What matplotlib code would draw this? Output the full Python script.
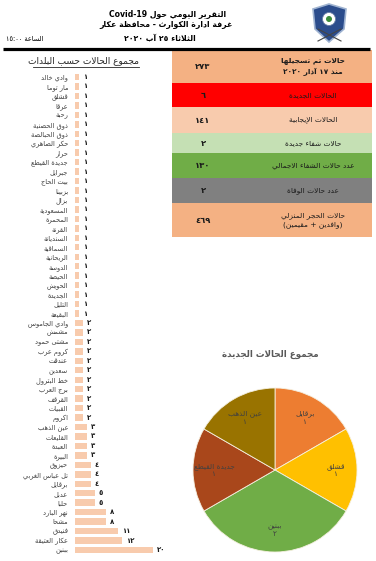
import re
import numpy as np
import matplotlib
matplotlib.use('Agg')
import matplotlib.pyplot as plt
from matplotlib.patches import Rectangle, Polygon, Circle

plt.rcParams['font.family'] = ['DejaVu Sans']

# ---- simple arabic shaping (matplotlib has no shaping / bidi) ----
FOUR = {'ئ': 0xFE89, 'ب': 0xFE8F, 'ت': 0xFE95, 'ث': 0xFE99, 'ج': 0xFE9D, 'ح': 0xFEA1,
        'خ': 0xFEA5, 'س': 0xFEB1, 'ش': 0xFEB5, 'ص': 0xFEB9, 'ض': 0xFEBD, 'ط': 0xFEC1,
        'ظ': 0xFEC5, 'ع': 0xFEC9, 'غ': 0xFECD, 'ف': 0xFED1, 'ق': 0xFED5, 'ك': 0xFED9,
        'ل': 0xFEDD, 'م': 0xFEE1, 'ن': 0xFEE5, 'ه': 0xFEE9, 'ي': 0xFEF1}
TWO = {'آ': 0xFE81, 'أ': 0xFE83, 'ؤ': 0xFE85, 'إ': 0xFE87, 'ا': 0xFE8D, 'ة': 0xFE93,
       'د': 0xFEA9, 'ذ': 0xFEAB, 'ر': 0xFEAD, 'ز': 0xFEAF, 'و': 0xFEED, 'ى': 0xFEEF}
ONE = {'ء': 0xFE80}
LAM_ALEF = {'ا': 0xFEFB, 'أ': 0xFEF7, 'إ': 0xFEF9, 'آ': 0xFEF5}
MIRROR = {'(': ')', ')': '('}


def shape(s):
    out = []
    prev = False
    i = 0
    while i < len(s):
        c = s[i]
        nxt = s[i + 1] if i + 1 < len(s) else ''
        if c == 'ل' and nxt in LAM_ALEF:
            out.append(chr(LAM_ALEF[nxt] + (1 if prev else 0)))
            prev = False
            i += 2
            continue
        if c in FOUR:
            jn = nxt in FOUR or nxt in TWO
            b = FOUR[c]
            if prev and jn:
                f = b + 3
            elif prev:
                f = b + 1
            elif jn:
                f = b + 2
            else:
                f = b
            out.append(chr(f))
            prev = jn
        elif c in TWO:
            out.append(chr(TWO[c] + (1 if prev else 0)))
            prev = False
        elif c in ONE:
            out.append(chr(ONE[c]))
            prev = False
        else:
            out.append(c)
            prev = False
        i += 1
    return ''.join(out)


def ar(text):
    lines = []
    for line in text.split('\n'):
        toks = re.findall(r'[A-Za-z0-9\u0660-\u0669][A-Za-z0-9\u0660-\u0669:\-\.]*|.', shape(line))
        lines.append(''.join(MIRROR.get(t, t) for t in reversed(toks)))
    return '\n'.join(lines)


def ind(n):
    return str(n).translate(str.maketrans('0123456789', '٠١٢٣٤٥٦٧٨٩'))


# ---- data ----
towns = ['وادي خالد', 'مار توما', 'قشلق', 'عرقا', 'رحبة', 'ذوق الحصنية', 'ذوق الحبالصة',
         'حكر الضاهري', 'حرار', 'جديدة القيطع', 'جبرايل', 'بيت الحاج', 'بزبينا', 'بزال',
         'المسعودية', 'المحمرة', 'القرنة', 'السنديانة', 'السماقية', 'الريحانية', 'الدوسة',
         'الحيصة', 'الحويش', 'الجديدة', 'التليل', 'البقيعة',
         'وادي الجاموس', 'مشمش', 'مشتى حمود', 'كروم عرب', 'عندقت', 'سعدين', 'خط البترول',
         'برج العرب', 'القرقف', 'القبيات', 'اكروم',
         'عين الذهب', 'القليعات', 'العبدة', 'البيرة',
         'حيزوق', 'تل عباس الغربي', 'برقايل', 'عدبل', 'حلبا', 'نهر البارد', 'مشحا',
         'فنيدق', 'عكار العتيقة', 'ببنين']
town_cases = [1] * 26 + [2] * 11 + [3] * 4 + [4] * 3 + [5, 5, 8, 8, 11, 12, 20]

table_labels = ['حالات تم تسجيلها\nمنذ ١٧ آذار ٢٠٢٠', 'الحالات الجديدة', 'الحالات الإيجابية',
                'حالات شفاء جديدة', 'عدد حالات الشفاء الاجمالي', 'عدد حالات الوفاة',
                'حالات الحجر المنزلي\n(وافدين + مقيمين)']
table_values = [273, 6, 141, 2, 130, 2, 469]
table_colors = ['#F4B183', '#FF0000', '#F8CBAD', '#C5E0B4', '#70AD47', '#808080', '#F4B183']

pie_labels = ['برقايل', 'قشلق', 'ببنين', 'جديدة القيطع', 'عين الذهب']
pie_values = [1, 1, 2, 1, 1]
pie_colors = ['#ED7D31', '#FFC000', '#70AD47', '#A9471B', '#997300']

W, H = 376, 561
fig = plt.figure(figsize=(W / 100, H / 100), dpi=100)

# page-level axes in pixel coords
ax0 = fig.add_axes([0, 0, 1, 1])
ax0.set_xlim(0, W)
ax0.set_ylim(H, 0)
ax0.axis('off')

ax0.text(168, 14, ar('التقرير اليومي حول Covid-19'), ha='center', va='center',
         fontsize=5.6, fontweight='bold')
ax0.text(166, 24.5, ar('غرفة ادارة الكوارث - محافظة عكار'), ha='center', va='center',
         fontsize=5.6, fontweight='bold')
ax0.text(160, 39, ar('الثلاثاء ٢٥ آب ٢٠٢٠'), ha='center', va='center',
         fontsize=5.6, fontweight='bold')
ax0.text(6, 38.5, ar('الساعة ١٥:٠٠'), ha='left', va='center', fontsize=4.8)
ax0.plot([3, 370], [48.5, 48.5], color='black', lw=2.3, solid_capstyle='butt')

# logo (simplified shield)
ax0.add_patch(Polygon([(313, 9), (329, 4), (346, 9), (344, 29), (329, 42), (315, 29)],
                      closed=True, facecolor='#2B4C8C', edgecolor='#9FB3D1', lw=1.2))
ax0.add_patch(Circle((329, 19), 6.5, facecolor='white', edgecolor='#6A7FA8', lw=0.6))
ax0.add_patch(Circle((329, 19), 3, facecolor='#3C8C3C', edgecolor='none'))
ax0.plot([318, 341], [41, 29], color='#444444', lw=0.8)
ax0.plot([318, 341], [29, 41], color='#444444', lw=0.8)

# summary table
edges = [50, 83, 107, 133, 153, 178, 203, 237]
for i, (lab, val, col) in enumerate(zip(table_labels, table_values, table_colors)):
    y0, y1 = edges[i], edges[i + 1]
    ax0.add_patch(Rectangle((172, y0), 200, y1 - y0, facecolor=col, edgecolor='none'))
    ym = (y0 + y1) / 2
    ax0.text(203, ym, ind(val), ha='center', va='center', fontsize=6,
             fontweight='bold', color='#1a1a1a')
    ax0.text(313, ym, ar(lab), ha='center', va='center', fontsize=5.3,
             color='#1a1a1a', linespacing=1.5,
             fontweight='bold' if i == 0 else 'normal')

# bar chart title
ax0.text(139, 61, ar('مجموع الحالات حسب البلدات'), ha='right', va='center',
         fontsize=6.5, color='#262626')
ax0.plot([33, 139], [66.5, 66.5], color='#262626', lw=0.6)

# bar chart
row0, row1 = 77, 550
step = (row1 - row0) / (len(towns) - 1)
top = row0 - step / 2
bot = row1 + step / 2
x0 = 75
ax = fig.add_axes([x0 / W, 1 - bot / H, 100 / W, (bot - top) / H])
ys = list(range(len(towns)))
bars = ax.barh(ys, town_cases, height=0.68, color='#F8CBAD')
ax.set_ylim(len(towns) - 0.5, -0.5)
ax.set_xlim(0, 100 / 3.9)
ax.set_yticks(ys)
ax.set_yticklabels([ar(t) for t in towns], fontsize=4.8, color='#404040')
ax.tick_params(axis='y', length=0, pad=5)
ax.set_xticks([])
for s in ax.spines.values():
    s.set_visible(False)
ax.patch.set_alpha(0)
ax.bar_label(bars, labels=[ind(v) for v in town_cases], padding=3,
             fontsize=5, fontweight='bold', color='#1a1a1a')

# pie chart
cx, cy, r = 275, 470, 82
axp = fig.add_axes([(cx - r) / W, 1 - (cy + r) / H, 2 * r / W, 2 * r / H])
wedges, _ = axp.pie(pie_values, colors=pie_colors, startangle=90, counterclock=False,
                    wedgeprops=dict(edgecolor='#f5f0e0', linewidth=0.6))
axp.set_xlim(-1, 1)
axp.set_ylim(-1, 1)
for w, lab, val in zip(wedges, pie_labels, pie_values):
    ang = np.deg2rad((w.theta1 + w.theta2) / 2)
    rr = 0.74
    axp.text(rr * np.cos(ang), rr * np.sin(ang), ar(lab) + '\n' + ind(val),
             ha='center', va='center', fontsize=5.3, color='#404040', linespacing=1.3)
ax0.text(270, 354, ar('مجموع الحالات الجديدة'), ha='center', va='center',
         fontsize=6.3, color='#595959', fontweight='bold')

fig.savefig('out.png', dpi=100)
